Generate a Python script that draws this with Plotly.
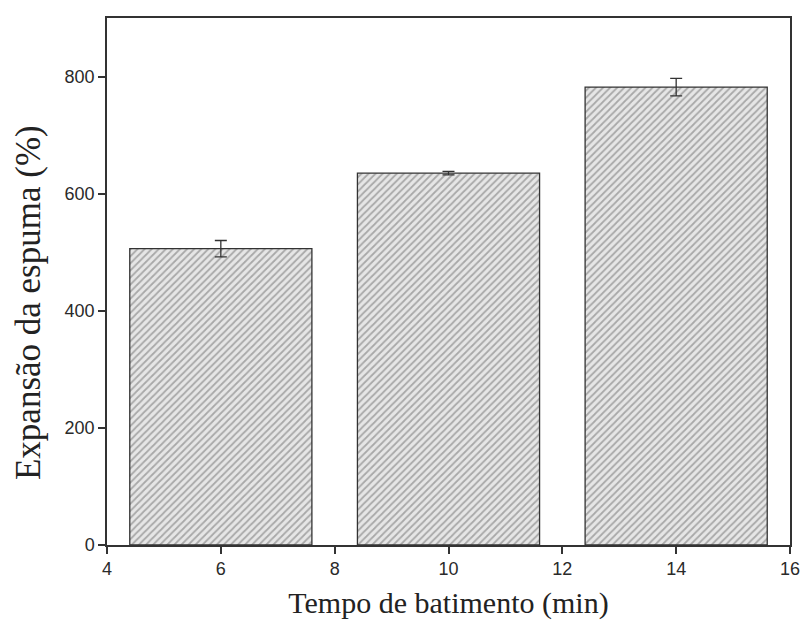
import plotly.graph_objects as go

tempo = [6, 10, 14]
expansao = [506, 635, 782]
erro = [14, 3, 15]
x_ticks = [4, 6, 8, 10, 12, 14, 16]
y_ticks = [0, 200, 400, 600, 800]

fig = go.Figure()
fig.add_trace(go.Bar(
    x=tempo, y=expansao, width=3.2,
    marker=dict(
        color="white",
        line=dict(color="#333333", width=1.3),
        pattern=dict(shape="/", fgcolor="#6a6a6a", bgcolor="#e6e6e6", size=5, solidity=0.35),
    ),
    error_y=dict(type="data", array=erro, color="#333333", thickness=1.3, width=6),
    showlegend=False,
))

fig.update_layout(
    width=800, height=630,
    margin=dict(l=107, r=10, t=18, b=85),
    paper_bgcolor="white", plot_bgcolor="white",
    font=dict(family="Liberation Sans, Arial", size=18, color="#2a2a2a"),
    xaxis=dict(
        range=[4, 16], tickvals=x_ticks, ticks="outside", ticklen=7, tickwidth=1.5,
        tickcolor="#333333", showline=True, linecolor="#333333", linewidth=1.5,
        mirror=True, showgrid=False, zeroline=False, automargin=False,
        ticklabeloverflow="allow",
        title=dict(text="Tempo de batimento (min)",
                   font=dict(family="Liberation Serif, Times New Roman", size=30, color="#222222"),
                   standoff=14),
    ),
    yaxis=dict(
        range=[0, 900], tickvals=y_ticks, ticks="outside", ticklen=7, tickwidth=1.5,
        tickcolor="#333333", showline=True, linecolor="#333333", linewidth=1.5,
        mirror=True, showgrid=False, zeroline=False, automargin=False,
    ),
    annotations=[dict(
        text="Expansão da espuma (%)", textangle=-90,
        xref="paper", yref="paper", x=-0.115, y=0.46,
        xanchor="center", yanchor="middle", showarrow=False,
        font=dict(family="Liberation Serif, Times New Roman", size=35, color="#222222"),
    )],
)

fig.write_html(
    "out.html",
    config={"displayModeBar": False},
    post_script="document.body.style.margin='0';document.body.style.overflow='hidden';",
)
